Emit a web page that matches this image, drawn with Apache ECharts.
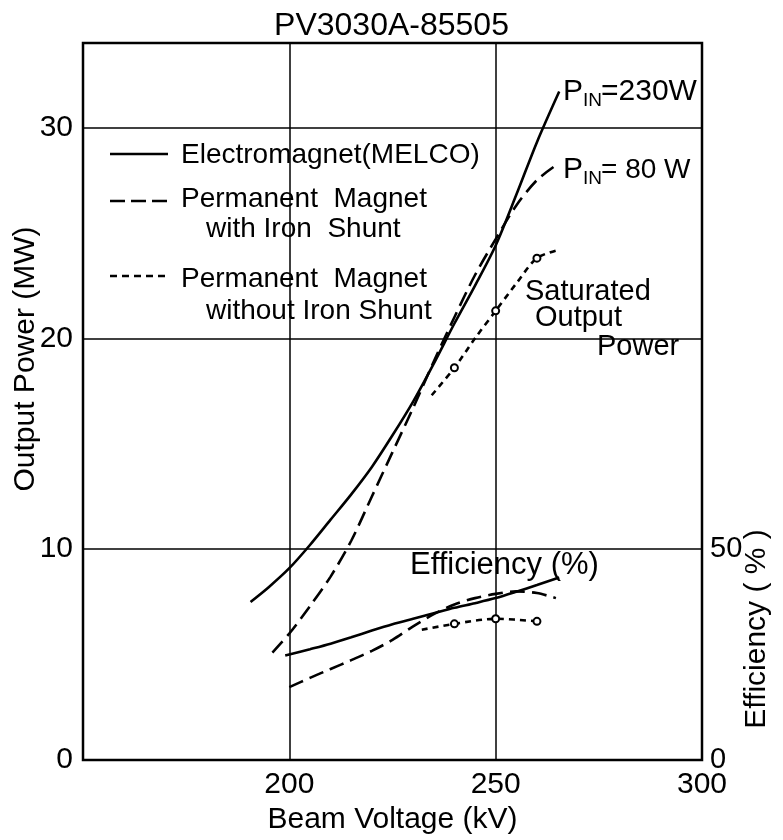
<!DOCTYPE html>
<html><head><meta charset="utf-8">
<script src="https://cdn.jsdelivr.net/npm/echarts@6/dist/echarts.min.js"></script>
<style>html,body{margin:0;padding:0;background:#fff}#c{width:783px;height:840px}</style>
</head><body><div id="c"></div>
<script>
const FONT = '"Liberation Sans", Arial, sans-serif';
const titleText = 'PV3030A-85505';
const xAxisName = 'Beam Voltage (kV)';
const yAxisName = 'Output Power (MW)';
const y2AxisName = 'Efficiency ( % )';
const xTickLabels = [200, 250, 300];
const yTickLabels = [0, 10, 20, 30];
const y2TickLabels = [0, 50];

// Output power (MW) vs beam voltage (kV)
const emPowerX = [190.6, 195, 200, 205, 210, 215, 220, 225, 230, 235, 240, 245, 250, 255, 260, 265.4];
const emPowerY = [7.5, 8.2, 9.1, 10.2, 11.4, 12.6, 13.9, 15.4, 17.0, 18.8, 20.7, 22.5, 24.4, 26.8, 29.3, 31.7];

const pmShuntPowerX = [195.9, 200, 205, 210, 215, 220, 225, 230, 235, 240, 245, 250, 255, 260, 264.6];
const pmShuntPowerY = [5.1, 6.0, 7.3, 8.7, 10.4, 12.5, 14.6, 16.7, 18.9, 21.0, 23.0, 24.7, 26.3, 27.5, 28.2];

const pmNoShuntPowerX = [234.5, 240, 245, 250, 255, 260, 265.4];
const pmNoShuntPowerY = [17.3, 18.6, 20.0, 21.3, 22.6, 23.8, 24.2];
const pmNoShuntPowerCircles = [240, 250, 260];

// Efficiency (%) vs beam voltage (kV)
const emEffX = [199, 205, 210, 215, 220, 225, 230, 235, 240, 245, 250, 255, 260, 265.4];
const emEffY = [24.8, 26.3, 27.6, 29.1, 30.7, 32.2, 33.5, 34.8, 36.1, 37.2, 38.4, 39.9, 41.5, 43.3];

const pmShuntEffX = [200, 205, 210, 215, 220, 225, 230, 235, 240, 245, 250, 255, 260, 264.6];
const pmShuntEffY = [17.3, 19.5, 21.6, 23.7, 25.9, 28.5, 31.7, 34.6, 36.9, 38.4, 39.4, 40.0, 39.6, 38.4];

const pmNoShuntEffX = [232.1, 240, 250, 260];
const pmNoShuntEffY = [30.9, 32.3, 33.5, 32.9];
const pmNoShuntEffCircles = [240, 250, 260];

const zip = (xs, ys) => xs.map((x, i) => [x, ys[i]]);

const SOLID = 'solid';
const LONG = [15, 7];
const SHORT = [6, 5];

function lineSeries(name, xs, ys, dash, axisIdx, circles) {
  return {
    name: name, type: 'line', yAxisIndex: axisIdx,
    data: zip(xs, ys), smooth: 0.3,
    symbol: circles ? (v) => (circles.indexOf(v[0]) >= 0 ? 'emptyCircle' : 'none') : 'none',
    symbolSize: 7, showSymbol: !!circles,
    itemStyle: { color: '#000', borderWidth: 1.5 },
    lineStyle: { color: '#000', width: 2.6, type: dash },
    emphasis: { disabled: true }, animation: false, z: 3
  };
}

function txt(t, x, y, size, extra) {
  return Object.assign({ type: 'text', x: x, y: y,
    style: { text: t, font: 'normal ' + size + 'px ' + FONT, fill: '#000', textAlign: 'left', textVerticalAlign: 'middle' } }, extra || {});
}
function seg(x1, y1, x2, y2, dash) {
  return { type: 'line', shape: { x1: x1, y1: y1, x2: x2, y2: y2 },
    style: { stroke: '#000', lineWidth: 2.6, lineDash: dash === SOLID ? null : dash } };
}

const chart = echarts.init(document.getElementById('c'), null, { renderer: 'canvas' });
chart.setOption({
  backgroundColor: '#fff',
  animation: false,
  title: { text: titleText, left: 'center', top: 10, padding: 0,
    textStyle: { fontFamily: FONT, fontSize: 32, fontWeight: 'normal', color: '#000' } },
  grid: { left: 83, right: 81, top: 43, bottom: 79, show: true, borderColor: '#000', borderWidth: 2.5 },
  xAxis: {
    type: 'value', min: 150, max: 300, interval: 50,
    name: xAxisName, nameLocation: 'middle', nameGap: 43,
    nameTextStyle: { fontFamily: FONT, fontSize: 30, color: '#000' },
    axisLine: { show: false }, axisTick: { show: false },
    axisLabel: { margin: 10, fontFamily: FONT, fontSize: 30, color: '#000',
      formatter: (v) => (xTickLabels.indexOf(v) >= 0 ? String(v) : '') },
    splitLine: { show: true, lineStyle: { color: '#000', width: 1.5 } }
  },
  yAxis: [{
    type: 'value', min: 0, max: 34, interval: 10,
    axisLine: { show: false }, axisTick: { show: false },
    axisLabel: { margin: 10, fontFamily: FONT, fontSize: 30, color: '#000',
      formatter: (v) => (yTickLabels.indexOf(v) >= 0 ? String(v) : '') },
    splitLine: { show: true, lineStyle: { color: '#000', width: 1.5 } }
  }, {
    type: 'value', min: 0, max: 170, interval: 50, position: 'right',
    axisLine: { show: false }, axisTick: { show: false },
    axisLabel: { margin: 8, fontFamily: FONT, fontSize: 29, color: '#000',
      formatter: (v) => (y2TickLabels.indexOf(v) >= 0 ? String(v) : '') },
    splitLine: { show: false }
  }],
  series: [
    lineSeries('Electromagnet (MELCO) power', emPowerX, emPowerY, SOLID, 0),
    lineSeries('PM with Iron Shunt power', pmShuntPowerX, pmShuntPowerY, LONG, 0),
    lineSeries('PM without Iron Shunt power', pmNoShuntPowerX, pmNoShuntPowerY, SHORT, 0, pmNoShuntPowerCircles),
    lineSeries('Electromagnet (MELCO) efficiency', emEffX, emEffY, SOLID, 1),
    lineSeries('PM with Iron Shunt efficiency', pmShuntEffX, pmShuntEffY, LONG, 1),
    lineSeries('PM without Iron Shunt efficiency', pmNoShuntEffX, pmNoShuntEffY, SHORT, 1, pmNoShuntEffCircles)
  ],
  graphic: [
    txt(yAxisName, 26, 359, 30, { rotation: Math.PI / 2, style: { text: yAxisName, font: 'normal 30px ' + FONT, fill: '#000', textAlign: 'center', textVerticalAlign: 'middle' } }),
    txt(y2AxisName, 757, 629, 30, { rotation: Math.PI / 2, style: { text: y2AxisName, font: 'normal 30px ' + FONT, fill: '#000', textAlign: 'center', textVerticalAlign: 'middle' } }),
    // legend
    seg(110, 154, 168, 154, SOLID),
    txt('Electromagnet(MELCO)', 181, 155, 28),
    seg(110, 201, 168, 201, [15, 6]),
    txt('Permanent  Magnet', 181, 199, 28),
    txt('with Iron  Shunt', 206, 229, 28),
    seg(110, 276, 168, 276, [7, 5]),
    txt('Permanent  Magnet', 181, 279, 28),
    txt('without Iron Shunt', 206, 311, 28),
    // annotations
    txt('P', 563, 92, 30), txt('IN', 583, 101, 19), txt('=230W', 601, 92, 30),
    txt('P', 563, 170, 30), txt('IN', 583, 179, 19), txt('= 80 W', 601, 170, 28),
    txt('Saturated', 525, 292, 29),
    txt('Output', 535, 318, 29),
    txt('Power', 597, 347, 29),
    txt('Efficiency (%)', 410, 565, 31)
  ]
});
</script>
</body></html>
